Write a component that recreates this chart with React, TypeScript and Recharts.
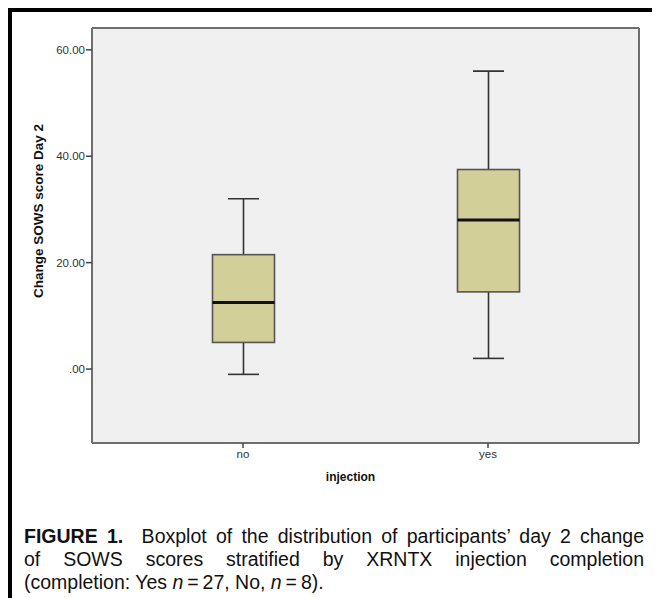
import React from 'react';
import { ComposedChart, Bar, XAxis, YAxis, CartesianGrid } from 'recharts';

const categories = ['no', 'yes'];
const mins = [-1, 2];
const q1s = [5, 14.5];
const medians = [12.5, 28];
const q3s = [21.5, 37.5];
const maxs = [32, 56];
const yTicks = [0, 20, 40, 60];
const yDomain = [-13.9, 64.1];

const data = categories.map((c, i) => ({
  cat: c,
  range: [mins[i], maxs[i]],
  min: mins[i],
  q1: q1s[i],
  median: medians[i],
  q3: q3s[i],
  max: maxs[i],
}));

const BoxShape = (props: any) => {
  const { x, y, width, height, payload } = props;
  const { min, max, q1, median, q3 } = payload;
  const top = Math.min(y, y + height);
  const bottom = Math.max(y, y + height);
  const py = (v: number) => bottom - ((v - min) / (max - min)) * (bottom - top);
  const cx = x + width / 2;
  const cap = width / 4;
  const ws = '#333';
  return (
    <g>
      <line x1={cx} x2={cx} y1={py(max)} y2={py(q3)} stroke={ws} strokeWidth={1.6} />
      <line x1={cx} x2={cx} y1={py(q1)} y2={py(min)} stroke={ws} strokeWidth={1.6} />
      <line x1={cx - cap} x2={cx + cap} y1={py(max)} y2={py(max)} stroke={ws} strokeWidth={1.6} />
      <line x1={cx - cap} x2={cx + cap} y1={py(min)} y2={py(min)} stroke={ws} strokeWidth={1.6} />
      <rect x={x} y={py(q3)} width={width} height={py(q1) - py(q3)} fill="#D3CF98" stroke="#555" strokeWidth={1.6} />
      <line x1={x} x2={x + width} y1={py(median)} y2={py(median)} stroke="#111" strokeWidth={3} />
    </g>
  );
};

const YLabel = () => {
  const cy = 203;
  return (
    <text
      x={30}
      y={cy}
      transform={`rotate(-90, 30, ${cy})`}
      textAnchor="middle"
      dominantBaseline="central"
      fontFamily="Liberation Sans, Arial, sans-serif"
      fontWeight="bold"
      fontSize={13.5}
      fill="#111"
    >
      Change SOWS score Day 2
    </text>
  );
};

const fmt = (v: number) => (v === 0 ? '.00' : v.toFixed(2));
const borderLine = { stroke: '#6E6E6E', strokeWidth: 2 };
const tickFont = { fontSize: 11.5, fill: '#333', fontFamily: 'Liberation Sans, Arial, sans-serif' };

export default function App() {
  return (
    <div style={{ position: 'relative', width: 652, height: 590, fontFamily: 'Liberation Sans, Arial, sans-serif' }}>
      <div
        style={{
          position: 'absolute',
          left: 0,
          top: 0,
          width: 652,
          height: 590,
          boxSizing: 'border-box',
          borderTop: '4px solid #000',
          borderLeft: '4px solid #000',
        }}
      />
      <div style={{ position: 'absolute', left: 0, top: 0 }}>
        <ComposedChart
          width={652}
          height={480}
          data={data}
          margin={{ top: 19, right: 20, left: 0, bottom: 15 }}
        >
          <CartesianGrid horizontal={false} vertical={false} fill="#F0F0F0" fillOpacity={1} />
          <XAxis
            dataKey="cat"
            padding={{ left: 28.5, right: 28.5 }}
            height={30}
            axisLine={borderLine}
            tickLine={{ stroke: '#444', strokeWidth: 1.5 }}
            tickSize={5}
            tick={tickFont}
            label={{
              value: 'injection',
              position: 'insideBottom',
              offset: -8,
              fontSize: 12,
              fontWeight: 'bold',
              fill: '#111',
              dx: -15,
            }}
          />
          <XAxis
            xAxisId="top"
            dataKey="cat"
            orientation="top"
            height={1}
            padding={{ left: 28.5, right: 28.5 }}
            axisLine={borderLine}
            tick={false}
            tickLine={false}
          />
          <YAxis
            type="number"
            domain={yDomain}
            ticks={yTicks}
            tickFormatter={fmt}
            width={84}
            allowDataOverflow
            axisLine={borderLine}
            tickLine={{ stroke: '#444', strokeWidth: 1.5 }}
            tickSize={6}
            tickMargin={1}
            tick={tickFont}
            label={<YLabel />}
          />
          <YAxis
            yAxisId="right"
            type="number"
            domain={yDomain}
            orientation="right"
            width={1}
            allowDataOverflow
            axisLine={borderLine}
            tick={false}
            tickLine={false}
          />
          <Bar dataKey="range" barSize={62} shape={<BoxShape />} isAnimationActive={false} />
        </ComposedChart>
      </div>
      <div
        style={{
          position: 'absolute',
          left: 16,
          top: 517,
          width: 620,
          fontSize: 19.5,
          lineHeight: '23px',
          color: '#111',
          fontFamily: 'Liberation Sans Narrow, Liberation Sans, Arial, sans-serif',
        }}
      >
        <div style={{ textAlign: 'justify', textAlignLast: 'justify', whiteSpace: 'nowrap' }}>
          <b>FIGURE 1.</b>&nbsp; Boxplot of the distribution of participants’ day 2 change
        </div>
        <div style={{ textAlign: 'justify', textAlignLast: 'justify' }}>
          of SOWS scores stratified by XRNTX injection completion
        </div>
        <div>
          (completion: Yes <i>n</i>&thinsp;=&thinsp;27, No, <i>n</i>&thinsp;=&thinsp;8).
        </div>
      </div>
    </div>
  );
}
